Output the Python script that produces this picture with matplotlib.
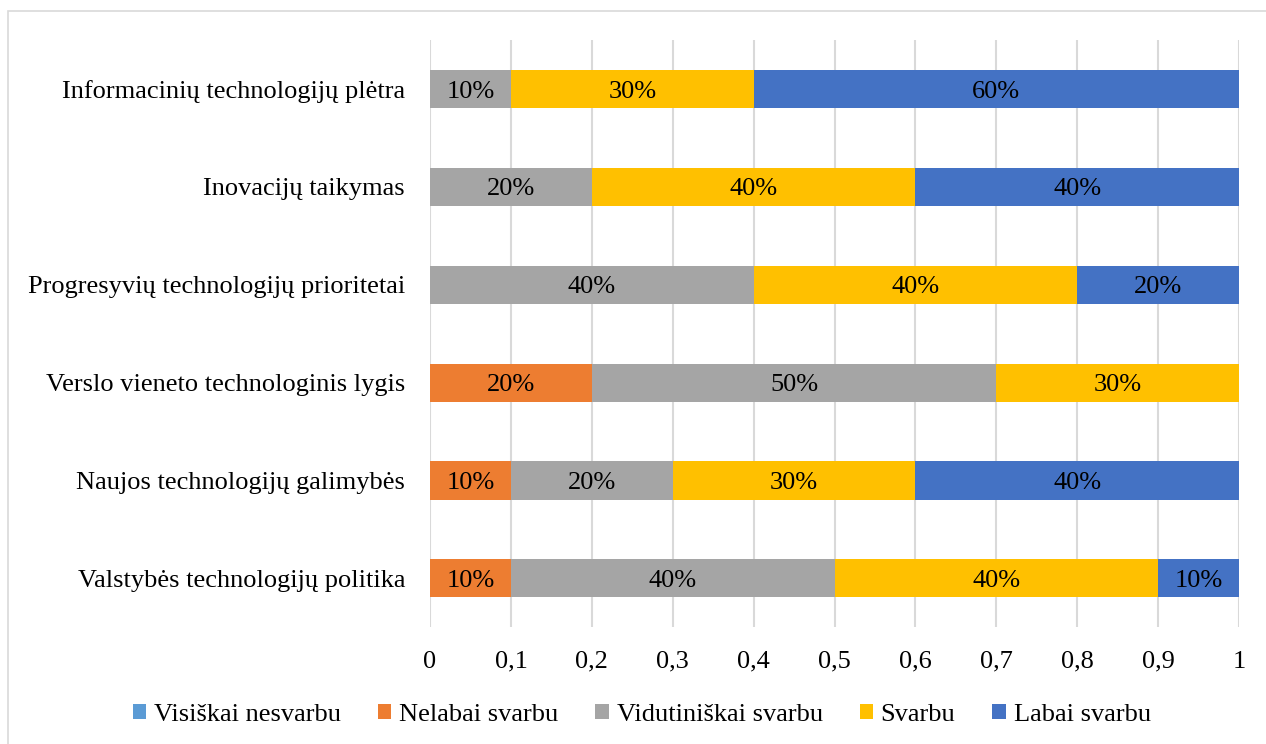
import numpy as np
import matplotlib.pyplot as plt
from matplotlib.patches import Rectangle

plt.rcParams['font.family'] = ['Liberation Serif', 'DejaVu Serif']

categories = [
    "Informacinių technologijų plėtra",
    "Inovacijų taikymas",
    "Progresyvių technologijų prioritetai",
    "Verslo vieneto technologinis lygis",
    "Naujos technologijų galimybės",
    "Valstybės technologijų politika",
]
series = ["Visiškai nesvarbu", "Nelabai svarbu", "Vidutiniškai svarbu", "Svarbu", "Labai svarbu"]
visiskai_nesvarbu = [0.0, 0.0, 0.0, 0.0, 0.0, 0.0]
nelabai_svarbu = [0.0, 0.0, 0.0, 0.2, 0.1, 0.1]
vidutiniskai_svarbu = [0.1, 0.2, 0.4, 0.5, 0.2, 0.4]
svarbu = [0.3, 0.4, 0.4, 0.3, 0.3, 0.4]
labai_svarbu = [0.6, 0.4, 0.2, 0.0, 0.4, 0.1]
colors = ["#5B9BD5", "#ED7D31", "#A5A5A5", "#FFC000", "#4472C4"]
xticks = [0, 0.1, 0.2, 0.3, 0.4, 0.5, 0.6, 0.7, 0.8, 0.9, 1]

values = [visiskai_nesvarbu, nelabai_svarbu, vidutiniskai_svarbu, svarbu, labai_svarbu]
fs = 19

fig = plt.figure(figsize=(12.66, 7.44), dpi=100)
ax = fig.add_axes([0.3397, 0.157, 0.9787 - 0.3397, 0.946 - 0.157])

y = np.arange(len(categories))[::-1]
left = np.zeros(len(categories))
for name, vals, col in zip(series, values, colors):
    vals = np.array(vals)
    ax.barh(y, vals, left=left, height=0.39, color=col, label=name, zorder=3)
    for yi, l, v in zip(y, left, vals):
        if v > 0:
            ax.text(l + v / 2, yi, f"{int(round(v * 100))}%", ha="center", va="center_baseline",
                    fontsize=fs, color="#000000", zorder=4)
    left = left + vals

ax.set_xlim(0, 1)
ax.set_ylim(-0.5, 5.5)
ax.set_xticks(xticks)
ax.set_xticklabels([("%g" % t).replace(".", ",") for t in xticks], fontsize=fs)
ax.set_yticks(y)
ax.set_yticklabels(categories, fontsize=fs)
ax.tick_params(axis="both", length=0)
ax.tick_params(axis="x", pad=17)
ax.tick_params(axis="y", pad=18)
ax.grid(axis="x", color="#d9d9d9", linewidth=1.5, zorder=0)
for s in ax.spines.values():
    s.set_visible(False)

ax.legend(loc="center", bbox_to_anchor=(0.507, 0.039), bbox_transform=fig.transFigure,
          ncol=5, frameon=False, fontsize=fs, handlelength=0.5, handleheight=0.5,
          handletextpad=0.3, columnspacing=1.4)

fig.patches.append(Rectangle((8 / 1266, -0.01), 1.0, 1 - 11 / 744 + 0.01,
                             transform=fig.transFigure, fill=False,
                             edgecolor="#d9d9d9", linewidth=1.2))

fig.savefig("out.png", dpi=100)
